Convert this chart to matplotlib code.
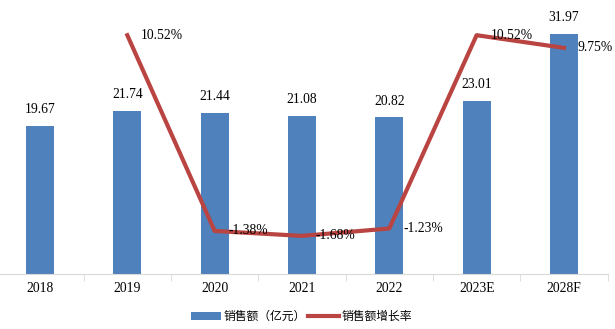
import numpy as np
import matplotlib
matplotlib.use("Agg")
import matplotlib.pyplot as plt

plt.rcParams['font.family'] = ['Liberation Serif', 'Noto Sans CJK SC']

years = ["2018", "2019", "2020", "2021", "2022", "2023E", "2028F"]
sales = [19.67, 21.74, 21.44, 21.08, 20.82, 23.01, 31.97]
growth = [None, 10.52, -1.38, -1.68, -1.23, 10.52, 9.75]

bar_color = "#4F81BD"
line_color = "#B94441"

fig = plt.figure(figsize=(6.15, 3.29), dpi=100)
ax = fig.add_axes([-0.006, 0.167, 0.994, 0.80])
x = np.arange(len(years))

bars = ax.bar(x, sales, width=0.32, color=bar_color, label="销售额（亿元）", zorder=2)
for xi, v in zip(x, sales):
    ax.annotate(f"{v:.2f}", (xi, v), xytext=(0, 7), textcoords="offset points",
                ha="center", va="bottom", fontsize=9.8)

ax.set_xlim(-0.5, len(years) - 0.5)
ax.set_ylim(0, 35)
ax.set_yticks([])
for s in ["top", "right", "left"]:
    ax.spines[s].set_visible(False)
ax.spines["bottom"].set_color("#D9D9D9")
ax.set_xticks(x)
ax.set_xticklabels(years, fontsize=9.8)
ax.tick_params(axis="x", which="major", length=0, pad=6)
ax.set_xticks(np.arange(-0.5, len(years)), minor=True)
ax.tick_params(axis="x", which="minor", length=5, color="#D9D9D9")

# growth rate on a hidden secondary axis
ax2 = ax.twinx()
ax2.set_ylim(-4, 12)
ax2.axis("off")
gx = [xi for xi, g in zip(x, growth) if g is not None]
gy = [g for g in growth if g is not None]
line, = ax2.plot(gx, gy, color=line_color, lw=3, label="销售额增长率", zorder=3)
for xi, g in zip(gx, gy):
    ax2.annotate(f"{g:.2f}%", (xi, g), xytext=(10, 0), textcoords="offset points",
                 ha="left", va="center", fontsize=9.8)

fig.legend(handles=[bars, line], loc="center", bbox_to_anchor=(0.49, 0.036),
           ncol=2, frameon=False, fontsize=8.5, handlelength=2.6, columnspacing=0.2,
           handletextpad=0.2, handleheight=0.6)

fig.savefig("out.png", dpi=100)
